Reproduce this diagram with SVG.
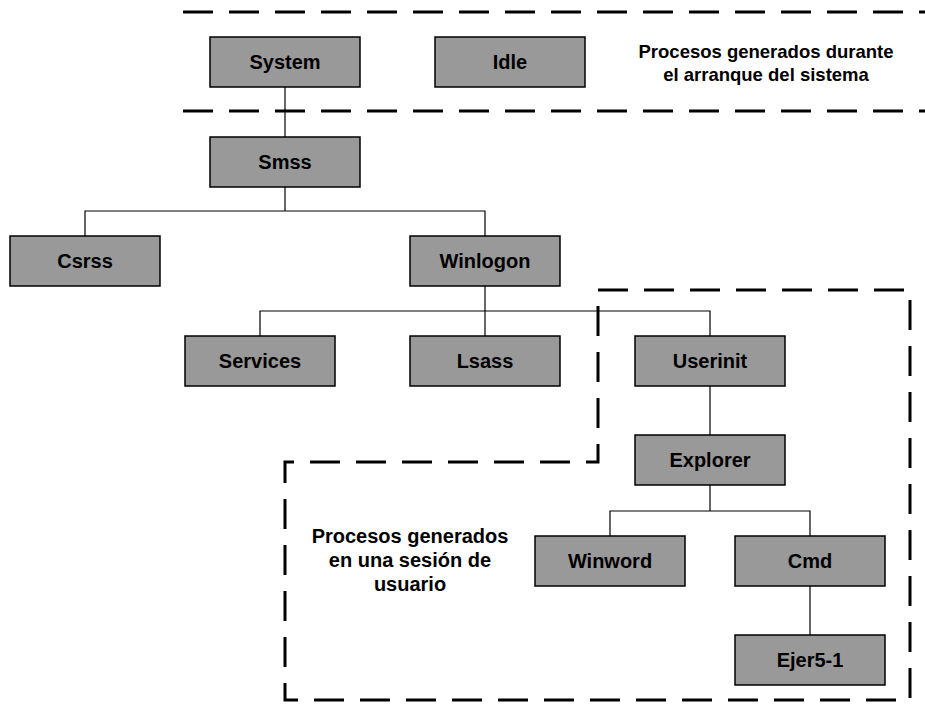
<svg xmlns="http://www.w3.org/2000/svg" width="925" height="714" viewBox="0 0 925 714">
<style>
.n rect{fill:#999999;stroke:#000;stroke-width:1.5}
.n text,.lbl{font-family:"Liberation Sans",Arial,sans-serif;font-weight:bold;font-size:20px;fill:#000;text-anchor:middle}
.top{font-size:18.5px}
.c{fill:none;stroke:#000;stroke-width:1.2}
.d{fill:none;stroke:#000;stroke-width:3;stroke-dasharray:30 16}
</style>
<rect width="925" height="714" fill="#fff"/>
<g id="connectors">
<path class="c" d="M285 87V137"/>
<path class="c" d="M285 187V211"/>
<path class="c" d="M85 236V211H485V236"/>
<path class="c" d="M485 286V336"/>
<path class="c" d="M260 336V311H710V336"/>
<path class="c" d="M710 386V435"/>
<path class="c" d="M710 485V511"/>
<path class="c" d="M610 536V511H810V536"/>
<path class="c" d="M810 586V635"/>
</g>
<g id="regions">
<path class="d" d="M183 12H925"/>
<path class="d" d="M183 111H925"/>
<path class="d" d="M598 290H910V700H285V462H598Z"/>
</g>
<g id="System" class="n"><rect x="210" y="37" width="150" height="50"/><text x="285" y="69">System</text></g>
<g id="Idle" class="n"><rect x="435" y="37" width="150" height="50"/><text x="510" y="69">Idle</text></g>
<g id="Smss" class="n"><rect x="210" y="137" width="150" height="50"/><text x="285" y="169">Smss</text></g>
<g id="Csrss" class="n"><rect x="10" y="236" width="150" height="50"/><text x="85" y="268">Csrss</text></g>
<g id="Winlogon" class="n"><rect x="410" y="236" width="150" height="50"/><text x="485" y="268">Winlogon</text></g>
<g id="Services" class="n"><rect x="185" y="336" width="150" height="50"/><text x="260" y="368">Services</text></g>
<g id="Lsass" class="n"><rect x="410" y="336" width="150" height="50"/><text x="485" y="368">Lsass</text></g>
<g id="Userinit" class="n"><rect x="635" y="336" width="150" height="50"/><text x="710" y="368">Userinit</text></g>
<g id="Explorer" class="n"><rect x="635" y="435" width="150" height="50"/><text x="710" y="467">Explorer</text></g>
<g id="Winword" class="n"><rect x="535" y="536" width="150" height="50"/><text x="610" y="568">Winword</text></g>
<g id="Cmd" class="n"><rect x="735" y="536" width="150" height="50"/><text x="810" y="568">Cmd</text></g>
<g id="Ejer5-1" class="n"><rect x="735" y="635" width="150" height="50"/><text x="810" y="667">Ejer5-1</text></g>
<text class="lbl top" x="766" y="58">Procesos generados durante</text>
<text class="lbl top" x="766" y="81">el arranque del sistema</text>
<text class="lbl" x="410" y="543">Procesos generados</text>
<text class="lbl" x="410" y="567">en una sesión de</text>
<text class="lbl" x="410" y="591">usuario</text>
</svg>
